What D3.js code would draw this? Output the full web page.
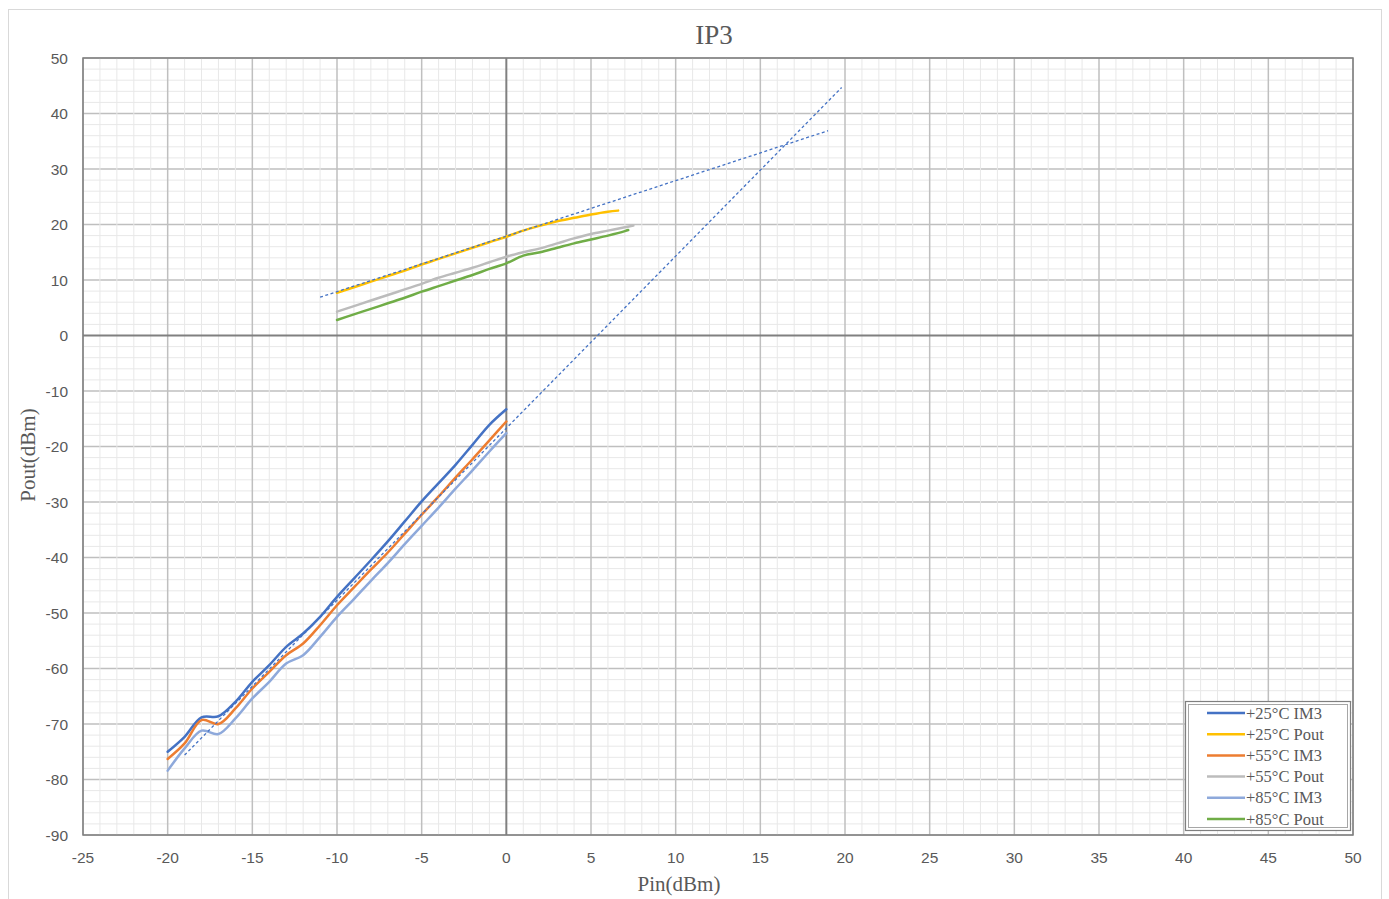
<!DOCTYPE html>
<html>
<head>
<meta charset="utf-8">
<script src="https://cdn.jsdelivr.net/npm/d3@7"></script>
<style>
  html, body { margin: 0; padding: 0; background: #ffffff; }
  svg { display: block; }
</style>
</head>
<body>
<svg id="chart" width="1389" height="899"></svg>
<script>
// ---------------- DATA ----------------
const chartTitle = "IP3";
const xTitle = "Pin(dBm)";
const yTitle = "Pout(dBm)";

const xTicks = [-25, -20, -15, -10, -5, 0, 5, 10, 15, 20, 25, 30, 35, 40, 45, 50];
const yTicks = [50, 40, 30, 20, 10, 0, -10, -20, -30, -40, -50, -60, -70, -80, -90];

const seriesNames = ["+25°C IM3", "+25°C Pout", "+55°C IM3", "+55°C Pout", "+85°C IM3", "+85°C Pout"];
const seriesColors = ["#4472C4", "#FFC000", "#ED7D31", "#BCBCBC", "#8EA9DB", "#70AD47"];

const pinIM3 = [-20, -19, -18, -17, -16, -15, -14, -13, -12, -11, -10, -9, -8, -7, -6, -5, -4, -3, -2, -1, 0];
const im3_25 = [-75.0, -72.3, -68.8, -68.6, -66.0, -62.4, -59.4, -56.1, -53.7, -50.7, -47.1, -43.8, -40.5, -37.1, -33.5, -29.9, -26.6, -23.3, -19.7, -16.1, -13.3];
const im3_55 = [-76.3, -73.5, -69.3, -70.0, -67.2, -63.6, -60.6, -57.6, -55.5, -52.2, -48.6, -45.4, -42.2, -39.1, -35.7, -32.3, -29.0, -25.6, -22.3, -18.9, -15.5];
const im3_85 = [-78.4, -74.4, -71.2, -71.8, -69.0, -65.4, -62.4, -59.1, -57.6, -54.3, -50.7, -47.5, -44.2, -41.0, -37.6, -34.3, -31.0, -27.6, -24.3, -20.9, -17.6];

const pinPout25 = [-10, -9, -8, -7, -6, -5, -4, -3, -2, -1, 0, 1, 2, 3, 4, 5, 6, 6.6];
const pout_25 = [7.7, 8.7, 9.7, 10.7, 11.7, 12.8, 13.8, 14.8, 15.8, 16.8, 17.8, 18.9, 19.8, 20.6, 21.2, 21.8, 22.3, 22.5];
const pinPout55 = [-10, -9, -8, -7, -6, -5, -4, -3, -2, -1, 0, 1, 2, 3, 4, 5, 6, 7, 7.5];
const pout_55 = [4.3, 5.3, 6.3, 7.3, 8.3, 9.3, 10.4, 11.3, 12.2, 13.2, 14.2, 15.0, 15.7, 16.6, 17.5, 18.3, 18.9, 19.5, 19.8];
const pinPout85 = [-10, -9, -8, -7, -6, -5, -4, -3, -2, -1, 0, 1, 2, 3, 4, 5, 6, 7, 7.2];
const pout_85 = [2.8, 3.8, 4.8, 5.8, 6.8, 7.9, 8.9, 9.9, 10.9, 12.0, 13.0, 14.4, 15.0, 15.8, 16.6, 17.3, 18.0, 18.8, 19.0];

// linear trend lines (fundamental slope ~1, IM3 slope ~3)
const trendSlope = [1.0, 3.1];
const trendIntercept = [17.9, -16.7];
const trendFrom = [-11, -19];
const trendTo = [19, 19.8];

// ---------------- LAYOUT ----------------
const svg = d3.select("#chart");
const L = 83, R = 1353, T = 58, B = 835;
const x = d3.scaleLinear().domain([-25, 50]).range([L, R]);
const y = d3.scaleLinear().domain([-90, 50]).range([B, T]);

// outer chart frame
svg.append("rect").attr("x", 8.5).attr("y", 9.5).attr("width", 1373).attr("height", 900)
  .attr("fill", "#fff").attr("stroke", "#d9d9d9").attr("stroke-width", 1);

const g = svg.append("g");

// minor horizontal gridlines every 2
g.selectAll(".minh").data(d3.range(-90, 51, 2).filter(v => v % 10 !== 0)).join("line")
  .attr("x1", L).attr("x2", R).attr("y1", d => y(d)).attr("y2", d => y(d))
  .attr("stroke", "#e8e8e8").attr("stroke-width", 1);
// major horizontal gridlines
g.selectAll(".majh").data(yTicks.filter(v => v !== 0)).join("line")
  .attr("x1", L).attr("x2", R).attr("y1", d => y(d)).attr("y2", d => y(d))
  .attr("stroke", "#bfbfbf").attr("stroke-width", 1.5);
// minor vertical gridlines every 1
g.selectAll(".minv").data(d3.range(-25, 51, 1).filter(v => v % 5 !== 0)).join("line")
  .attr("y1", T).attr("y2", B).attr("x1", d => x(d)).attr("x2", d => x(d))
  .attr("stroke", "#e8e8e8").attr("stroke-width", 1);
// major vertical gridlines
g.selectAll(".majv").data(xTicks.filter(v => v !== 0)).join("line")
  .attr("y1", T).attr("y2", B).attr("x1", d => x(d)).attr("x2", d => x(d))
  .attr("stroke", "#bfbfbf").attr("stroke-width", 1.5);
// zero lines
g.append("line").attr("x1", L).attr("x2", R).attr("y1", y(0)).attr("y2", y(0))
  .attr("stroke", "#808080").attr("stroke-width", 2);
g.append("line").attr("y1", T).attr("y2", B).attr("x1", x(0)).attr("x2", x(0))
  .attr("stroke", "#808080").attr("stroke-width", 2);
// plot border
g.append("rect").attr("x", L).attr("y", T).attr("width", R - L).attr("height", B - T)
  .attr("fill", "none").attr("stroke", "#7f7f7f").attr("stroke-width", 1.5);

// tick labels
const tickFont = "'Liberation Sans', Arial, sans-serif";
svg.append("g").selectAll("text").data(xTicks).join("text")
  .attr("x", d => x(d)).attr("y", 863).attr("text-anchor", "middle")
  .attr("font-family", tickFont).attr("font-size", 15.5).attr("fill", "#595959")
  .text(d => d);
svg.append("g").selectAll("text").data(yTicks).join("text")
  .attr("x", 68).attr("y", d => y(d) + 5.5).attr("text-anchor", "end")
  .attr("font-family", tickFont).attr("font-size", 15.5).attr("fill", "#595959")
  .text(d => d);

// titles
const serif = "'Liberation Serif', 'Times New Roman', serif";
svg.append("text").attr("x", 714).attr("y", 44).attr("text-anchor", "middle")
  .attr("font-family", serif).attr("font-size", 27).attr("fill", "#595959").text(chartTitle);
svg.append("text").attr("x", 679).attr("y", 891).attr("text-anchor", "middle")
  .attr("font-family", serif).attr("font-size", 21).attr("fill", "#595959").text(xTitle);
svg.append("text").attr("transform", "translate(35,455) rotate(-90)").attr("text-anchor", "middle")
  .attr("font-family", serif).attr("font-size", 21).attr("fill", "#595959").text(yTitle);

// series
const seriesX = [pinIM3, pinPout25, pinIM3, pinPout55, pinIM3, pinPout85];
const seriesY = [im3_25, pout_25, im3_55, pout_55, im3_85, pout_85];
const line = d3.line().x(d => x(d[0])).y(d => y(d[1])).curve(d3.curveCatmullRom.alpha(0.5));
const drawOrder = [1, 3, 5, 0, 2, 4];
drawOrder.forEach(i => {
  const pts = seriesX[i].map((v, k) => [v, seriesY[i][k]]);
  svg.append("path").datum(pts).attr("d", line)
    .attr("fill", "none").attr("stroke", seriesColors[i]).attr("stroke-width", 2.5)
    .attr("stroke-linecap", "round").attr("stroke-linejoin", "round");
});

// trend lines
trendSlope.forEach((m, i) => {
  const pts = [trendFrom[i], trendTo[i]].map(v => [v, m * v + trendIntercept[i]]);
  svg.append("path").datum(pts).attr("d", d3.line().x(d => x(d[0])).y(d => y(d[1])))
    .attr("fill", "none").attr("stroke", "#4472C4").attr("stroke-width", 1.3)
    .attr("stroke-dasharray", "3,2.5");
});

// legend
const lg = svg.append("g");
lg.append("rect").attr("x", 1185.5).attr("y", 701.5).attr("width", 165).attr("height", 129)
  .attr("fill", "#fff").attr("stroke", "#7f7f7f").attr("stroke-width", 1.2);
lg.append("rect").attr("x", 1188.5).attr("y", 704.5).attr("width", 159).attr("height", 123)
  .attr("fill", "none").attr("stroke", "#a6a6a6").attr("stroke-width", 1);
seriesNames.forEach((name, i) => {
  const cy = 713 + i * 21.2;
  lg.append("line").attr("x1", 1207).attr("x2", 1245).attr("y1", cy).attr("y2", cy)
    .attr("stroke", seriesColors[i]).attr("stroke-width", 2.5);
  lg.append("text").attr("x", 1246).attr("y", cy + 5.5)
    .attr("font-family", serif).attr("font-size", 16.5).attr("fill", "#595959").text(name);
});
</script>
</body>
</html>
